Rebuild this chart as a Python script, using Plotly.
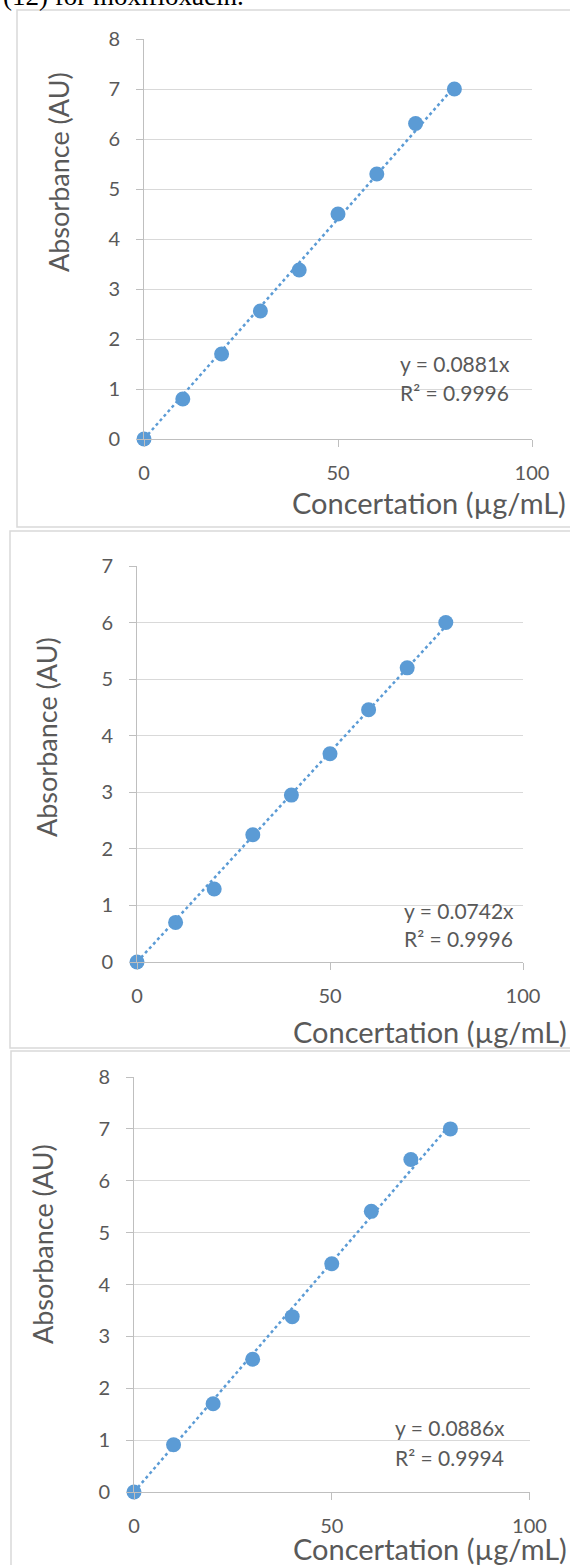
import plotly.graph_objects as go

# ---------------- data ----------------
concentration = [0, 10, 20, 30, 40, 50, 60, 70, 80]
absorbance_1 = [0, 0.80, 1.70, 2.56, 3.38, 4.50, 5.30, 6.31, 7.00]
absorbance_2 = [0, 0.70, 1.29, 2.25, 2.95, 3.68, 4.46, 5.20, 6.00]
absorbance_3 = [0, 0.91, 1.70, 2.56, 3.38, 4.40, 5.41, 6.41, 7.00]
slopes = [0.0881, 0.0742, 0.0886]
r_squared = ["0.9996", "0.9996", "0.9994"]
y_max = [8, 7, 8]
x_tick_values = [0, 50, 100]
x_title = "Concertation (µg/mL)"
y_title = "Absorbance (AU)"
top_text = "(12) for moxifloxacin."

series = [absorbance_1, absorbance_2, absorbance_3]

# ---------------- layout geometry (pixels) ----------------
W, H = 570, 1565


def fx(px):
    return px / W


def fy(py):
    return 1 - py / H


geom = [
    dict(x0=144, x1=532, ytop=39, ybot=439,
         border=(17, 10, 527), ytitle=(59, 172), xtitle=(568, 503), eq=(398, 363, 393)),
    dict(x0=137, x1=523, ytop=566, ybot=962,
         border=(10, 531, 1048), ytitle=(46, 737), xtitle=(569, 1031), eq=(402, 910, 938)),
    dict(x0=134, x1=529.5, ytop=1077, ybot=1492,
         border=(11, 1051, 1600), ytitle=(42, 1244), xtitle=(569, 1548), eq=(393, 1427, 1457)),
]

BLUE = "#5B9BD5"
TEXT = "#595959"
GRID = "#D9D9D9"
AXIS = "#BFBFBF"
FONT = "Lato"

fig = go.Figure()
layout = dict(
    width=W, height=H,
    margin=dict(l=0, r=0, t=0, b=0, autoexpand=False),
    paper_bgcolor="white", plot_bgcolor="white",
    showlegend=False,
    font=dict(family=FONT, color=TEXT),
)
annotations = []
shapes = []

for i, (ys, g) in enumerate(zip(series, geom)):
    n = "" if i == 0 else str(i + 1)
    xa, ya = "x" + n, "y" + n
    slope = slopes[i]
    x_end = max(concentration)
    # trendline (from displayed equation y = slope * x)
    fig.add_trace(go.Scatter(
        x=[0, x_end], y=[0, slope * x_end], mode="lines",
        line=dict(color=BLUE, width=2.5, dash="dot"),
        xaxis=xa, yaxis=ya, hoverinfo="skip", cliponaxis=False))
    fig.add_trace(go.Scatter(
        x=concentration, y=ys, mode="markers",
        marker=dict(color=BLUE, size=15),
        xaxis=xa, yaxis=ya, cliponaxis=False))

    layout["xaxis" + n] = dict(
        domain=[fx(g["x0"]), fx(g["x1"])], anchor=ya, range=[0, 100],
        tickvals=x_tick_values, showgrid=False, zeroline=False,
        showline=True, linecolor=AXIS, linewidth=1,
        ticks="outside", ticklen=7, tickcolor=AXIS, tickwidth=1,
        tickfont=dict(family=FONT, size=20, color=TEXT), ticklabelstandoff=9,
    )
    layout["yaxis" + n] = dict(
        domain=[fy(g["ybot"]), fy(g["ytop"])], anchor=xa, range=[0, y_max[i]],
        dtick=1, tick0=0, showgrid=True, gridcolor=GRID, gridwidth=1,
        zeroline=False, showline=True, linecolor=AXIS, linewidth=1,
        ticks="outside", ticklen=7, tickcolor=AXIS, tickwidth=1,
        tickfont=dict(family=FONT, size=20, color=TEXT), ticklabelstandoff=12,
    )

    bx, btop, bbot = g["border"]
    shapes.append(dict(type="rect", xref="paper", yref="paper",
                       x0=fx(bx), x1=fx(W + 60), y0=fy(bbot), y1=fy(btop),
                       line=dict(color=GRID, width=1.5), fillcolor="rgba(0,0,0,0)",
                       layer="below"))

    tx, ty = g["ytitle"]
    annotations.append(dict(text=y_title, xref="paper", yref="paper",
                            x=fx(tx), y=fy(ty), xanchor="center", yanchor="middle",
                            textangle=-90, showarrow=False,
                            font=dict(family=FONT, size=27, color=TEXT)))
    tx, ty = g["xtitle"]
    annotations.append(dict(text=x_title, xref="paper", yref="paper",
                            x=fx(tx), y=fy(ty), xanchor="right", yanchor="middle",
                            showarrow=False,
                            font=dict(family=FONT, size=29, color=TEXT)))
    ex, ey1, ey2 = g["eq"]
    annotations.append(dict(text="y = %.4fx" % slope, xref="paper", yref="paper",
                            x=fx(ex), y=fy(ey1), xanchor="left", yanchor="middle",
                            showarrow=False,
                            font=dict(family=FONT, size=21, color=TEXT)))
    annotations.append(dict(text="R² = " + r_squared[i], xref="paper", yref="paper",
                            x=fx(ex), y=fy(ey2), xanchor="left", yanchor="middle",
                            showarrow=False,
                            font=dict(family=FONT, size=21, color=TEXT)))

annotations.append(dict(text=top_text, xref="paper", yref="paper",
                        x=fx(1), y=fy(-4), xanchor="left", yanchor="middle",
                        showarrow=False,
                        font=dict(family="Liberation Serif", size=27, color="black")))

layout["annotations"] = annotations
layout["shapes"] = shapes
fig.update_layout(**layout)

page_fix = (
    "document.documentElement.style.margin='0';"
    "document.documentElement.style.overflow='hidden';"
    "document.body.style.margin='0';"
    "document.body.style.padding='0';"
    "document.body.style.overflow='hidden';"
    "var d=document.getElementById('{plot_id}');"
    "d.style.position='absolute';d.style.left='0px';d.style.top='0px';"
)
fig.write_html("out.html", post_script=page_fix,
               config={"displayModeBar": False, "staticPlot": True})
